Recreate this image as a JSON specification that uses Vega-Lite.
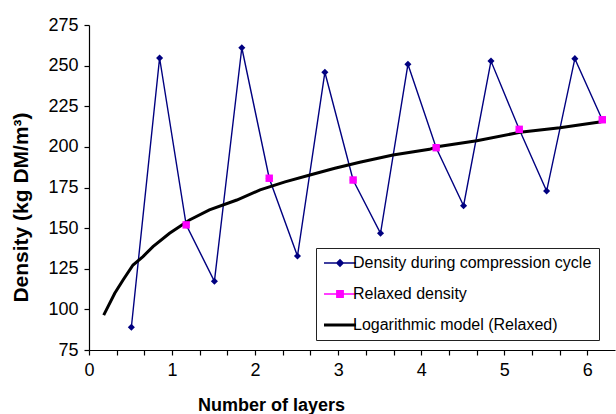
{
  "$schema": "https://vega.github.io/schema/vega-lite/v6.json",
  "autosize": "none",
  "width": 526,
  "height": 325,
  "padding": {"left": 89, "top": 25, "right": 1, "bottom": 64},
  "background": "white",
  "config": {
    "view": {"stroke": null},
    "font": "Liberation Sans",
    "axis": {"grid": false, "domainColor": "#000", "tickColor": "#000", "domainWidth": 1.2, "tickWidth": 1.2, "labelColor": "#000", "titleColor": "#000", "labelFont": "Liberation Sans", "titleFont": "Liberation Sans"}
  },
  "datasets": {
    "comp": [
      {"layer": 0.51, "density": 89.0, "series": "Density during compression cycle"},
      {"layer": 0.85, "density": 254.7, "series": "Density during compression cycle"},
      {"layer": 1.17, "density": 152.0, "series": "Density during compression cycle"},
      {"layer": 1.51, "density": 117.3, "series": "Density during compression cycle"},
      {"layer": 1.84, "density": 261.0, "series": "Density during compression cycle"},
      {"layer": 2.17, "density": 180.7, "series": "Density during compression cycle"},
      {"layer": 2.51, "density": 132.8, "series": "Density during compression cycle"},
      {"layer": 2.84, "density": 245.9, "series": "Density during compression cycle"},
      {"layer": 3.18, "density": 179.6, "series": "Density during compression cycle"},
      {"layer": 3.51, "density": 146.8, "series": "Density during compression cycle"},
      {"layer": 3.84, "density": 250.8, "series": "Density during compression cycle"},
      {"layer": 4.18, "density": 199.5, "series": "Density during compression cycle"},
      {"layer": 4.51, "density": 163.8, "series": "Density during compression cycle"},
      {"layer": 4.84, "density": 252.8, "series": "Density during compression cycle"},
      {"layer": 5.18, "density": 210.8, "series": "Density during compression cycle"},
      {"layer": 5.51, "density": 172.8, "series": "Density during compression cycle"},
      {"layer": 5.85, "density": 254.3, "series": "Density during compression cycle"},
      {"layer": 6.18, "density": 216.7, "series": "Density during compression cycle"}
    ],
    "relaxed": [
      {"layer": 1.17, "density": 152.0, "series": "Relaxed density"},
      {"layer": 2.17, "density": 180.7, "series": "Relaxed density"},
      {"layer": 3.18, "density": 179.6, "series": "Relaxed density"},
      {"layer": 4.18, "density": 199.5, "series": "Relaxed density"},
      {"layer": 5.18, "density": 210.8, "series": "Relaxed density"},
      {"layer": 6.18, "density": 216.7, "series": "Relaxed density"}
    ],
    "model": [
      {"layer": 0.177, "density": 96.5, "series": "Logarithmic model (Relaxed)"},
      {"layer": 0.31, "density": 109.9, "series": "Logarithmic model (Relaxed)"},
      {"layer": 0.41, "density": 118.1, "series": "Logarithmic model (Relaxed)"},
      {"layer": 0.53, "density": 127.3, "series": "Logarithmic model (Relaxed)"},
      {"layer": 0.65, "density": 132.5, "series": "Logarithmic model (Relaxed)"},
      {"layer": 0.77, "density": 138.6, "series": "Logarithmic model (Relaxed)"},
      {"layer": 0.97, "density": 146.8, "series": "Logarithmic model (Relaxed)"},
      {"layer": 1.21, "density": 155.0, "series": "Logarithmic model (Relaxed)"},
      {"layer": 1.45, "density": 161.2, "series": "Logarithmic model (Relaxed)"},
      {"layer": 1.78, "density": 167.3, "series": "Logarithmic model (Relaxed)"},
      {"layer": 2.06, "density": 173.5, "series": "Logarithmic model (Relaxed)"},
      {"layer": 2.36, "density": 178.5, "series": "Logarithmic model (Relaxed)"},
      {"layer": 2.66, "density": 182.7, "series": "Logarithmic model (Relaxed)"},
      {"layer": 2.96, "density": 186.8, "series": "Logarithmic model (Relaxed)"},
      {"layer": 3.26, "density": 190.5, "series": "Logarithmic model (Relaxed)"},
      {"layer": 3.66, "density": 195.0, "series": "Logarithmic model (Relaxed)"},
      {"layer": 4.1, "density": 198.5, "series": "Logarithmic model (Relaxed)"},
      {"layer": 4.19, "density": 200.1, "series": "Logarithmic model (Relaxed)"},
      {"layer": 4.67, "density": 203.8, "series": "Logarithmic model (Relaxed)"},
      {"layer": 5.19, "density": 209.0, "series": "Logarithmic model (Relaxed)"},
      {"layer": 5.67, "density": 211.8, "series": "Logarithmic model (Relaxed)"},
      {"layer": 6.17, "density": 215.5, "series": "Logarithmic model (Relaxed)"}
    ]
  },
  "encoding": {
    "x": {
      "field": "layer", "type": "quantitative",
      "scale": {"domain": [0, 6.3333], "nice": false, "zero": false},
      "axis": {
        "title": "Number of layers",
        "titleFontSize": 18, "titleFontWeight": "bold",
        "titleX": 182, "titleY": 60, "titleBaseline": "alphabetic", "titleAnchor": null, "titleAlign": "center",
        "values": [0, 0.33333, 0.66667, 1, 1.33333, 1.66667, 2, 2.33333, 2.66667, 3, 3.33333, 3.66667, 4, 4.33333, 4.66667, 5, 5.33333, 5.66667, 6, 6.33333],
        "labelExpr": "abs(datum.value - round(datum.value)) < 0.01 ? format(round(datum.value), 'd') : ''",
        "labelFontSize": 18, "labelPadding": 6, "tickSize": 5, "labelFlush": false, "labelOverlap": false
      }
    },
    "y": {
      "field": "density", "type": "quantitative",
      "scale": {"domain": [75, 275], "nice": false, "zero": false},
      "axis": {
        "title": "Density (kg DM/m³)",
        "titleFontSize": 21, "titleFontWeight": "bold",
        "titleAngle": -90, "titleX": -62, "titleY": 182, "titleBaseline": "alphabetic", "titleAlign": "center", "titleAnchor": null,
        "values": [75, 100, 125, 150, 175, 200, 225, 250, 275],
        "labelFontSize": 18, "labelPadding": 6, "tickSize": 5, "labelFlush": false, "labelOverlap": false
      }
    },
    "color": {
      "field": "series", "type": "nominal",
      "scale": {
        "domain": ["Density during compression cycle", "Relaxed density", "Logarithmic model (Relaxed)"],
        "range": ["#000080", "#FF00FF", "#000000"]
      },
      "legend": {
        "title": null,
        "orient": "none",
        "legendX": 227,
        "legendY": 223,
        "padding": 7,
        "fillColor": "white",
        "strokeColor": "#222",
        "symbolSize": 1024,
        "symbolOffset": 9,
        "labelOffset": 5,
        "rowPadding": 15,
        "labelFontSize": 16,
        "labelFont": "Liberation Sans",
        "labelColor": "#000",
        "labelLimit": 400,
        "encode": {
          "symbols": {
            "update": {
              "shape": {"signal": "datum.value === 'Density during compression cycle' ? 'M-1,0H1M0,-0.2L0.2,0L0,0.2L-0.2,0Z' : datum.value === 'Relaxed density' ? 'M-1,0H1M-0.2,-0.2H0.2V0.2H-0.2Z' : 'M-1,0H1'"},
              "stroke": {"signal": "datum.value === 'Density during compression cycle' ? '#000080' : datum.value === 'Relaxed density' ? '#FF00FF' : '#000000'"},
              "fill": {"signal": "datum.value === 'Density during compression cycle' ? '#000080' : datum.value === 'Relaxed density' ? '#FF00FF' : '#000000'"},
              "strokeWidth": {"signal": "datum.value === 'Logarithmic model (Relaxed)' ? 3 : 1.4"},
              "opacity": {"value": 1},
              "fillOpacity": {"value": 1},
              "strokeOpacity": {"value": 1}
            }
          }
        }
      }
    }
  },
  "layer": [
    {
      "data": {"name": "comp"},
      "mark": {"type": "line", "strokeWidth": 1.4},
      "encoding": {}
    },
    {
      "data": {"name": "model"},
      "mark": {"type": "line", "strokeWidth": 3},
      "encoding": {}
    },
    {
      "data": {"name": "comp"},
      "mark": {"type": "point", "shape": "diamond", "filled": true, "size": 50, "opacity": 1},
      "encoding": {}
    },
    {
      "data": {"name": "relaxed"},
      "mark": {"type": "point", "shape": "square", "filled": true, "size": 55, "opacity": 1},
      "encoding": {}
    }
  ]
}
